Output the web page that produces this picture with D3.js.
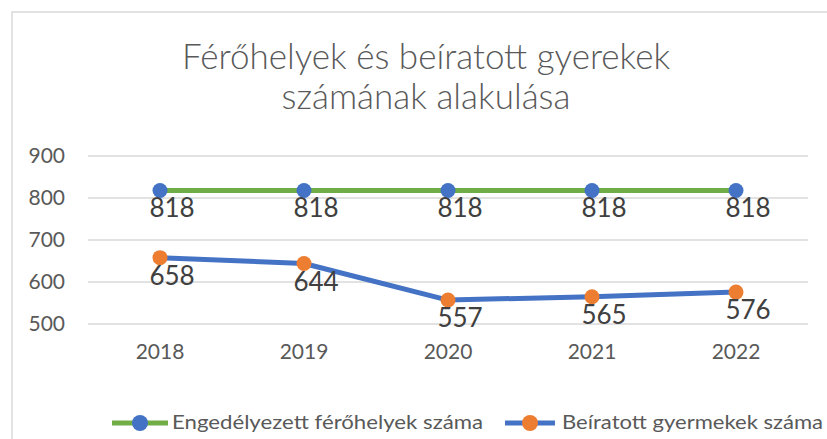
<!DOCTYPE html>
<html>
<head>
<meta charset="utf-8">
<script src="https://cdn.jsdelivr.net/npm/d3@7"></script>
<style>
  body { margin: 0; background: #fff; }
  svg text { font-family: Lato, "Open Sans", sans-serif; }
</style>
</head>
<body>
<div id="chart"></div>
<script>
var years = ["2018", "2019", "2020", "2021", "2022"];
var ferohelyek = [818, 818, 818, 818, 818];
var beiratott = [658, 644, 557, 565, 576];
var yTicks = [500, 600, 700, 800, 900];
var titleLines = ["Férőhelyek és beíratott gyerekek", "számának alakulása"];
var seriesNames = ["Engedélyezett férőhelyek száma", "Beíratott gyermekek száma"];

var drawChart = (function () {
    const width = 827, height = 439;
    const plotLeft = 88, plotRight = 808, plotTop = 156, plotBottom = 324;

    var svg = d3.select("#chart").append("svg")
        .attr("width", width)
        .attr("height", height);

    svg.append("rect")
        .attr("x", 12).attr("y", 12)
        .attr("width", 830).attr("height", 440)
        .attr("fill", "#fff")
        .attr("stroke", "#d9d9d9")
        .attr("stroke-width", 1.5);

    // title
    svg.append("g").selectAll("text")
        .data(titleLines)
        .enter().append("text")
        .attr("x", 426)
        .attr("y", function (d, i) { return 69 + i * 40 })
        .attr("text-anchor", "middle")
        .attr("font-size", 35)
        .attr("font-weight", 300)
        .attr("fill", "#595959")
        .text(function (d) { return d });

    var x = d3.scaleBand().domain(years).range([plotLeft, plotRight]);
    var y = d3.scaleLinear().domain([500, 900]).range([plotBottom, plotTop]);

    // gridlines
    svg.append("g").selectAll("line")
        .data(yTicks)
        .enter().append("line")
        .attr("x1", plotLeft).attr("x2", plotRight)
        .attr("y1", function (d) { return y(d) }).attr("y2", function (d) { return y(d) })
        .attr("stroke", "#d9d9d9")
        .attr("stroke-width", 1.5);

    var yAxis = svg.append("g")
        .attr("transform", "translate(" + (plotLeft - 23) + ",0)")
        .call(d3.axisLeft(y).tickValues(yTicks).tickSize(0).tickPadding(0));
    yAxis.select(".domain").remove();
    yAxis.selectAll("text")
        .attr("font-size", 21)
        .attr("fill", "#595959")
        .attr("font-family", "Lato, sans-serif");

    var xAxis = svg.append("g")
        .attr("transform", "translate(0," + plotBottom + ")")
        .call(d3.axisBottom(x).tickSize(0).tickPadding(20));
    xAxis.select(".domain").remove();
    xAxis.selectAll("text")
        .attr("font-size", 21)
        .attr("fill", "#595959")
        .attr("font-family", "Lato, sans-serif");

    var cx = function (d, i) { return x(years[i]) + x.bandwidth() / 2 };

    var series = [
        { values: ferohelyek, line: "#70ad47", marker: "#4472c4" },
        { values: beiratott, line: "#4472c4", marker: "#ed7d31" }
    ];

    series.forEach(function (s) {
        var line = d3.line()
            .x(cx)
            .y(function (d) { return y(d) });

        svg.append("path")
            .datum(s.values)
            .attr("d", line)
            .attr("fill", "none")
            .attr("stroke", s.line)
            .attr("stroke-width", 5)
            .attr("stroke-linejoin", "round");

        svg.append("g").selectAll("circle")
            .data(s.values)
            .enter().append("circle")
            .attr("cx", cx)
            .attr("cy", function (d) { return y(d) })
            .attr("r", 7.5)
            .attr("fill", s.marker);

        // labels sit below and a bit right of the marker, like the original
        svg.append("g").selectAll("text")
            .data(s.values)
            .enter().append("text")
            .attr("x", function (d, i) { return cx(d, i) + 12 })
            .attr("y", function (d) { return y(d) + 27 })
            .attr("text-anchor", "middle")
            .attr("font-size", 26)
            .attr("fill", "#404040")
            .text(function (d) { return d });
    });

    // legend
    var legendX = [112, 505];
    var legendLineW = [56, 50];
    var legendTextW = [311, 261];
    var legend = svg.append("g").selectAll("g")
        .data(series)
        .enter().append("g")
        .attr("transform", function (d, i) { return "translate(" + legendX[i] + ",423)" });
    legend.append("line")
        .attr("x1", 0).attr("x2", function (d, i) { return legendLineW[i] })
        .attr("stroke", function (d) { return d.line })
        .attr("stroke-width", 5);
    legend.append("circle")
        .attr("cx", function (d, i) { return legendLineW[i] / 2 })
        .attr("r", 8)
        .attr("fill", function (d) { return d.marker });
    legend.append("text")
        .attr("x", function (d, i) { return legendLineW[i] + 4 + (i === 1 ? 3 : 0) })
        .attr("y", 6)
        .attr("font-size", 20)
        .attr("textLength", function (d, i) { return legendTextW[i] })
        .attr("lengthAdjust", "spacingAndGlyphs")
        .attr("fill", "#595959")
        .text(function (d, i) { return seriesNames[i] });
}());
</script>
</body>
</html>
